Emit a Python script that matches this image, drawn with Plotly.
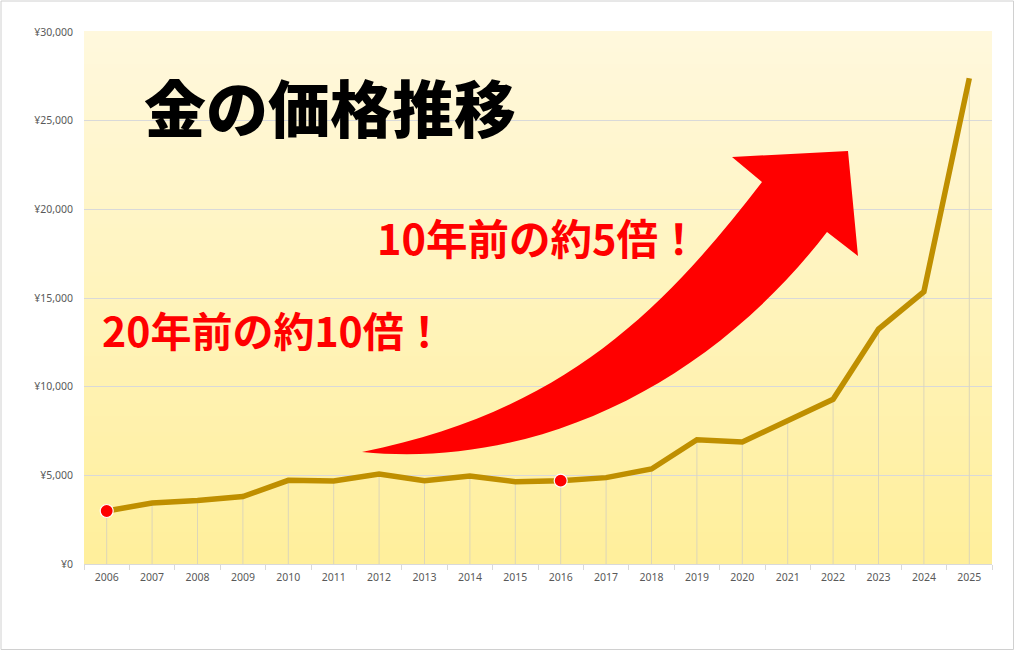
import plotly.graph_objects as go

# ---------------- data ----------------
years = ["2006", "2007", "2008", "2009", "2010", "2011", "2012", "2013", "2014", "2015",
         "2016", "2017", "2018", "2019", "2020", "2021", "2022", "2023", "2024", "2025"]
prices = [2990, 3440, 3580, 3800, 4720, 4680, 5075, 4700, 4960, 4640,
          4700, 4870, 5360, 7010, 6880, 8120, 9290, 13250, 15360, 27390]
highlight_years = ["2006", "2016"]
y_ticks = [0, 5000, 10000, 15000, 20000, 25000, 30000]
y_tick_labels = ["¥" + format(v, ",") for v in y_ticks]

title_text = "金の価格推移"
note_10y = "10年前の約5倍！"
note_20y = "20年前の約10倍！"

# ---------------- geometry ----------------
FIG_W, FIG_H = 1015, 651
M_L, M_R, M_T, M_B = 84, 23, 32, 87
PW = FIG_W - M_L - M_R
PH = FIG_H - M_T - M_B


def px(x, y):
    """page pixel -> paper coordinates"""
    return (x - M_L) / PW, (FIG_H - M_B - y) / PH


fig = go.Figure()

# drop lines from each point to the axis
dx, dy = [], []
for yr, v in zip(years, prices):
    dx += [yr, yr, None]
    dy += [0, v, None]
fig.add_trace(go.Scatter(x=dx, y=dy, mode="lines", line=dict(color="#DDD6B8", width=1),
                         hoverinfo="skip", showlegend=False))

# main line
fig.add_trace(go.Scatter(x=years, y=prices, mode="lines",
                         line=dict(color="#BF8F00", width=5.5), showlegend=False))

# highlighted points
hx = [y for y in years if y in highlight_years]
hy = [p for y, p in zip(years, prices) if y in highlight_years]
fig.add_trace(go.Scatter(x=hx, y=hy, mode="markers",
                         marker=dict(color="#FF0000", size=13, line=dict(color="white", width=1.2)),
                         showlegend=False))

shapes = []
# vertical gradient background for plot area
top_c = (255, 248, 221)
bot_c = (255, 239, 155)
N = 133
for i in range(N):
    t = i / (N - 1)
    c = tuple(round(bot_c[k] + (top_c[k] - bot_c[k]) * t) for k in range(3))
    shapes.append(dict(type="rect", xref="x domain", yref="y domain",
                       x0=0, x1=1, y0=i / N, y1=(i + 1) / N + 0.002,
                       fillcolor="rgb(%d,%d,%d)" % c, line=dict(width=0), layer="below"))

# curved red arrow (paper coords)
T0 = px(362, 452)
U1 = px(562, 412)
U2 = px(662, 312)
N1 = px(762, 182)
B1 = px(732, 157)
TIP = px(848, 151)
B2 = px(858, 256)
N2 = px(827, 232)
Q1 = px(707, 388)
Q2 = px(532, 469)


def p(pt):
    return "%.5f,%.5f" % pt


path = ("M " + p(T0) + " C " + p(U1) + " " + p(U2) + " " + p(N1) +
        " L " + p(B1) + " L " + p(TIP) + " L " + p(B2) + " L " + p(N2) +
        " C " + p(Q1) + " " + p(Q2) + " " + p(T0) + " Z")
shapes.append(dict(type="path", xref="paper", yref="paper", path=path,
                   fillcolor="#FF0000", line=dict(width=0), layer="above"))

# outer frame
fx0, fy0 = px(1, 649.5)
fx1, fy1 = px(1013.5, 1)
shapes.append(dict(type="rect", xref="paper", yref="paper", x0=fx0, y0=fy0, x1=fx1, y1=fy1,
                   line=dict(color="#D0D0D0", width=1), fillcolor="rgba(0,0,0,0)", layer="above"))

annotations = []
tx, ty = px(330, 106)
annotations.append(dict(text=title_text, xref="paper", yref="paper", x=tx, y=ty,
                        xanchor="center", yanchor="middle", showarrow=False,
                        font=dict(family="Noto Sans CJK JP", size=62, color="#000000", weight=900)))
ax, ay = px(538, 237)
annotations.append(dict(text=note_10y, xref="paper", yref="paper", x=ax, y=ay,
                        xanchor="center", yanchor="middle", showarrow=False,
                        font=dict(family="Noto Sans CJK JP", size=41.5, color="#FF0000", weight="bold")))
bx, by = px(273, 329)
annotations.append(dict(text=note_20y, xref="paper", yref="paper", x=bx, y=by,
                        xanchor="center", yanchor="middle", showarrow=False,
                        font=dict(family="Noto Sans CJK JP", size=41, color="#FF0000", weight="bold")))

fig.update_layout(
    width=FIG_W, height=FIG_H,
    margin=dict(l=M_L, r=M_R, t=M_T, b=M_B, autoexpand=False),
    paper_bgcolor="white", plot_bgcolor="rgba(0,0,0,0)",
    shapes=shapes, annotations=annotations, showlegend=False,
    xaxis=dict(type="category", showgrid=False, showline=True, linecolor="#D9D9D9", linewidth=1,
               ticks="outside", tickson="boundaries", ticklen=5, tickcolor="#D9D9D9",
               ticklabelstandoff=3,
               tickfont=dict(family="Noto Sans", size=10.5, color="#595959"),
               range=[-0.5, len(years) - 0.5], fixedrange=True),
    yaxis=dict(range=[0, 30000], tickmode="array", tickvals=y_ticks, ticktext=y_tick_labels,
               showgrid=True, gridcolor="#D9D9D9", gridwidth=1, zeroline=False, showline=False,
               ticks="", ticklabelstandoff=10,
               tickfont=dict(family="Noto Sans", size=10.5, color="#595959"), fixedrange=True),
)

fig.write_html("out.html")
